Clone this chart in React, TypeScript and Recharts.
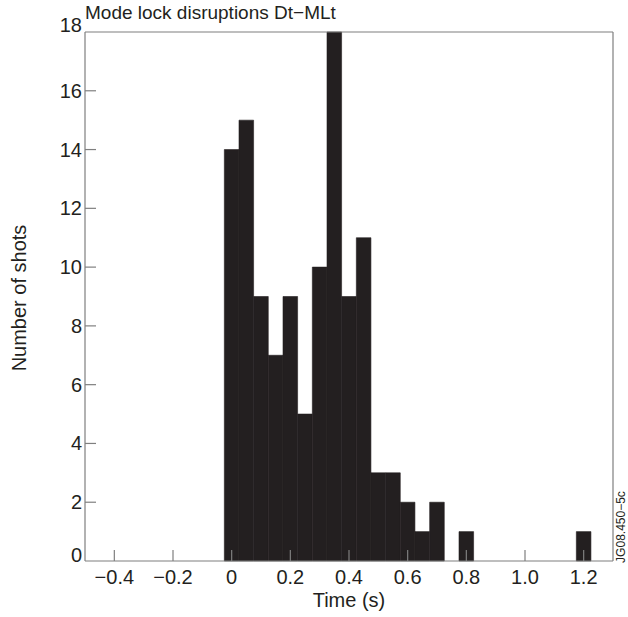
import { Bar, BarChart, ReferenceLine, XAxis, YAxis } from "recharts";

const binCenters = [
  0, 0.05, 0.1, 0.15, 0.2, 0.25, 0.3, 0.35, 0.4, 0.45, 0.5, 0.55, 0.6, 0.65,
  0.7, 0.75, 0.8, 0.85, 0.9, 0.95, 1.0, 1.05, 1.1, 1.15, 1.2,
];
const shotCounts = [
  14, 15, 9, 7, 9, 5, 10, 18, 9, 11, 3, 3, 2, 1, 2, 0, 1, 0, 0, 0, 0, 0, 0, 0, 1,
];
const xTicks = [-0.4, -0.2, 0, 0.2, 0.4, 0.6, 0.8, 1.0, 1.2];
const yTicks = [0, 2, 4, 6, 8, 10, 12, 14, 16, 18];

const data = binCenters.map((t, i) => ({ t, shots: shotCounts[i] }));

const INK = "#231f20";
const FRAME = "#7f7f7f";
const FONT = '"Liberation Sans", Arial, Helvetica, sans-serif';

const fmtX = (v: number) => (v === 0 ? "0" : v.toFixed(1).replace("-", "\u2212"));

function XTick({ x, y, payload }: { x?: number; y?: number; payload?: { value: number } }) {
  if (x == null || y == null || !payload) return null;
  return (
    <g>
      <line x1={x} x2={x} y1={y} y2={y - 11} stroke={FRAME} strokeWidth={1.2} />
      <text x={x} y={y + 23} textAnchor="middle" fill={INK} fontSize={20} fontFamily={FONT}>
        {fmtX(payload.value)}
      </text>
    </g>
  );
}

function YTick({ x, y, payload }: { x?: number; y?: number; payload?: { value: number } }) {
  if (x == null || y == null || !payload) return null;
  const v = payload.value;
  const shift = v === 0 ? -6 : v === 18 ? -7 : 0;
  return (
    <g>
      {v !== 0 && v !== 18 && (
        <line x1={x} x2={x + 11} y1={y} y2={y} stroke={FRAME} strokeWidth={1.2} />
      )}
      <text x={x - 3} y={y + 7 + shift} textAnchor="end" fill={INK} fontSize={20} fontFamily={FONT}>
        {v}
      </text>
    </g>
  );
}

export default function App() {
  return (
    <div style={{ position: "absolute", left: 0, top: 0, width: 628, height: 617, background: "#fff" }}>
      <BarChart
        width={628}
        height={617}
        data={data}
        margin={{ top: 32, right: 15, left: 45, bottom: 26 }}
        barCategoryGap={0}
        barGap={0}
      >
        <XAxis
          dataKey="t"
          type="number"
          domain={[-0.5, 1.3]}
          ticks={xTicks}
          interval={0}
          height={30}
          tickSize={0}
          tickMargin={0}
          tickLine={false}
          axisLine={{ stroke: FRAME, strokeWidth: 1.2 }}
          tick={<XTick />}
        />
        <YAxis
          type="number"
          domain={[0, 18]}
          ticks={yTicks}
          interval={0}
          width={40}
          tickSize={0}
          tickMargin={0}
          tickLine={false}
          axisLine={{ stroke: FRAME, strokeWidth: 1.2 }}
          tick={<YTick />}
        />
        <ReferenceLine y={18} stroke={FRAME} strokeWidth={1.2} />
        <ReferenceLine x={1.3} stroke={FRAME} strokeWidth={1.2} />
        <Bar
          dataKey="shots"
          fill={INK}
          stroke={INK}
          strokeWidth={0.6}
          barSize={14.6}
          isAnimationActive={false}
        />
      </BarChart>
      <svg
        width={628}
        height={617}
        style={{ position: "absolute", left: 0, top: 0, pointerEvents: "none" }}
        fontFamily={FONT}
        fill={INK}
      >
        <text x={85} y={19} fontSize={19}>
          Mode lock disruptions Dt{"\u2212"}MLt
        </text>
        <text
          x={19}
          y={298}
          fontSize={20}
          textAnchor="middle"
          dominantBaseline="central"
          transform="rotate(-90 19 298)"
        >
          Number of shots
        </text>
        <text x={349} y={607} fontSize={20} textAnchor="middle">
          Time (s)
        </text>
        <text
          x={621}
          y={527}
          fontSize={12}
          textAnchor="middle"
          dominantBaseline="central"
          transform="rotate(-90 621 527)"
        >
          JG08.450{"\u2212"}5c
        </text>
      </svg>
    </div>
  );
}
